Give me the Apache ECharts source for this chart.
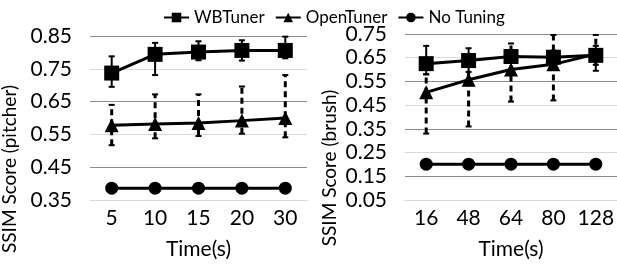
<!DOCTYPE html>
<html>
<head>
<meta charset="utf-8">
<script src="https://cdn.jsdelivr.net/npm/echarts@6/dist/echarts.min.js"></script>
<style>
  html, body { margin: 0; padding: 0; background: #fff; }
  #main { width: 617px; height: 265px; }
</style>
</head>
<body>
<div id="main"></div>
<script>
var chartDom = document.getElementById('main');
var myChart = echarts.init(chartDom);

// pitcher (left)
var timesA = ['5', '10', '15', '20', '30'];
var wbA = [0.737, 0.794, 0.801, 0.806, 0.806];
var wbErrA = [[0.695, 0.788], [0.731, 0.829], [0.776, 0.834], [0.775, 0.837], [0.782, 0.848]];
var otA = [0.578, 0.582, 0.585, 0.592, 0.600];
var otErrA = [[0.517, 0.64], [0.538, 0.672], [0.545, 0.672], [0.552, 0.696], [0.541, 0.731]];
var noA = [0.386, 0.386, 0.386, 0.386, 0.386];

// brush (right)
var timesB = ['16', '48', '64', '80', '128'];
var wbB = [0.625, 0.638, 0.655, 0.652, 0.66];
var wbErrB = [[0.58, 0.70], [0.59, 0.69], [0.63, 0.68], [0.63, 0.68], [0.595, 0.70]];
var otB = [0.504, 0.557, 0.600, 0.622, 0.665];
var otErrB = [[0.33, 0.58], [0.36, 0.63], [0.465, 0.71], [0.47, 0.746], [0.62, 0.746]];
var noB = [0.201, 0.201, 0.201, 0.201, 0.201];

var FONT = 'Lato';

function errData(errs) {
  return errs.map(function (e, i) { return [i, e[0], e[1]]; });
}

function errRender(dashed) {
  return function (params, api) {
    var x = api.value(0);
    var lo = api.coord([x, api.value(1)]);
    var hi = api.coord([x, api.value(2)]);
    var st = { stroke: '#000', lineWidth: dashed ? 3 : 2 };
    if (dashed) st.lineDash = [6, 4];
    var cap = { stroke: '#000', lineWidth: 2 };
    return {
      type: 'group',
      children: [
        { type: 'line', shape: { x1: lo[0], y1: lo[1], x2: hi[0], y2: hi[1] }, style: st },
        { type: 'line', shape: { x1: lo[0] - 3, y1: lo[1], x2: lo[0] + 3, y2: lo[1] }, style: cap },
        { type: 'line', shape: { x1: hi[0] - 3, y1: hi[1], x2: hi[0] + 3, y2: hi[1] }, style: cap }
      ]
    };
  };
}

function yLabel(v) {
  var k = Math.round(v * 100);
  return k % 10 === 5 ? (k / 100).toFixed(2) : '';
}

function lineSeries(name, data, symbol, size, idx) {
  return {
    name: name,
    type: 'line',
    xAxisIndex: idx,
    yAxisIndex: idx,
    data: data,
    symbol: symbol,
    symbolSize: size,
    z: 3,
    lineStyle: { color: '#000', width: 3 },
    itemStyle: { color: '#000' }
  };
}

function errSeries(name, errs, dashed, idx) {
  return {
    name: name + ' error',
    type: 'custom',
    xAxisIndex: idx,
    yAxisIndex: idx,
    data: errData(errs),
    renderItem: errRender(dashed),
    encode: { x: 0, y: [1, 2] },
    itemStyle: { color: '#000' },
    z: 2,
    silent: true
  };
}

var xAxisBase = {
  type: 'category',
  axisLine: { lineStyle: { color: '#d9d9d9', width: 1 } },
  axisTick: { show: false },
  axisLabel: { color: '#000', fontSize: 21, fontFamily: FONT, margin: 8, interval: 0 },
  name: 'Time(s)',
  nameLocation: 'middle',
  nameGap: 39,
  nameTextStyle: { color: '#000', fontSize: 21, fontFamily: FONT }
};

var yAxisBase = {
  type: 'value',
  interval: 0.05,
  axisLine: { show: false },
  axisTick: { show: false },
  axisLabel: { color: '#000', fontSize: 21, fontFamily: FONT, margin: 18, formatter: yLabel },
  splitLine: { lineStyle: { color: ['#d9d9d9', 'rgba(0,0,0,0)', '#8c8c8c', 'rgba(0,0,0,0)'], width: 1 } }
};

function yTitle(text, x, y) {
  return {
    type: 'text',
    x: x,
    y: y,
    rotation: Math.PI / 2,
    style: {
      text: text,
      fill: '#000',
      font: '19px ' + FONT,
      align: 'center',
      verticalAlign: 'middle'
    }
  };
}

var option = {
  animation: false,
  backgroundColor: '#fff',
  textStyle: { fontFamily: FONT },
  legend: {
    top: 4,
    left: 158,
    itemWidth: 25,
    itemHeight: 12,
    itemGap: 10,
    data: ['WBTuner', 'OpenTuner', 'No Tuning'],
    textStyle: { color: '#000', fontSize: 17, fontFamily: FONT }
  },
  grid: [
    { left: 90, top: 36, width: 217, height: 177 },
    { left: 405, top: 34, width: 215, height: 179 }
  ],
  xAxis: [
    Object.assign({}, xAxisBase, { gridIndex: 0, data: timesA }),
    Object.assign({}, xAxisBase, { gridIndex: 1, data: timesB })
  ],
  yAxis: [
    Object.assign({}, yAxisBase, { gridIndex: 0, min: 0.35, max: 0.85 }),
    Object.assign({}, yAxisBase, { gridIndex: 1, min: 0.05, max: 0.75 })
  ],
  graphic: [
    yTitle('SSIM Score (pitcher)', 10, 169),
    yTitle('SSIM Score (brush)', 330, 168)
  ],
  series: [
    errSeries('WBTuner', wbErrA, false, 0),
    errSeries('OpenTuner', otErrA, true, 0),
    lineSeries('WBTuner', wbA, 'rect', 15, 0),
    lineSeries('OpenTuner', otA, 'triangle', 14, 0),
    lineSeries('No Tuning', noA, 'circle', 13, 0),
    errSeries('WBTuner', wbErrB, false, 1),
    errSeries('OpenTuner', otErrB, true, 1),
    lineSeries('WBTuner', wbB, 'rect', 15, 1),
    lineSeries('OpenTuner', otB, 'triangle', 14, 1),
    lineSeries('No Tuning', noB, 'circle', 13, 1)
  ]
};

option && myChart.setOption(option);
</script>
</body>
</html>
